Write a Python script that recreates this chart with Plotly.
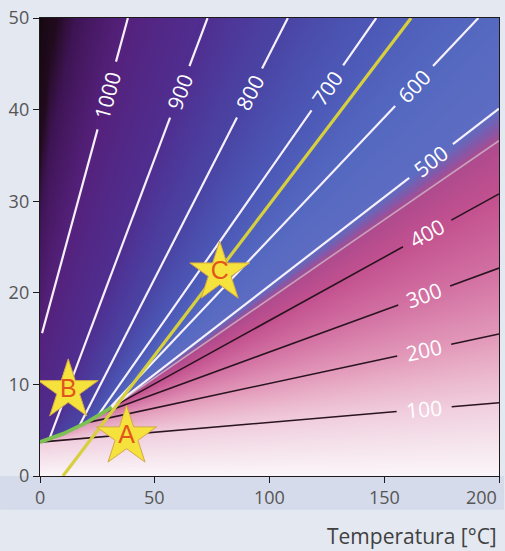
import numpy as np
import plotly.graph_objects as go

# Axis frame: temperature (°C) vs pressure (MPa)
T_RANGE = [0, 200]
P_RANGE = [0, 50]
x_ticks = [0, 50, 100, 150, 200]
y_ticks = [0, 10, 20, 30, 40, 50]
x_title = "Temperatura [°C]"

# Saturation curve up to the critical point
sat_T = [0, 10, 20, 31.3]
sat_P = [3.7, 4.6, 5.8, 7.5]

# Gas-side isochores (density, start point, end point)
gas_rho = [100, 200, 300, 400]
gas_T0 = [0, 20, 27, 30.5]
gas_P0 = [3.7, 5.8, 6.85, 7.38]
gas_T1 = [200, 200, 200, 200]
gas_P1 = [8.0, 15.5, 22.7, 30.8]
gas_label_T = [167.4, 167.4, 167.4, 168.7]

# Critical isochore
crit_rho = 467
crit_T = [31.3, 200]
crit_P = [7.5, 36.6]

# Liquid-side isochores
liq_rho = [500, 600, 700, 800, 900, 1000]
liq_T0 = [31, 29.5, 25, 17, 4.3, 0.9]
liq_P0 = [7.45, 7.2, 6.5, 5.4, 4.2, 15.6]
liq_T1 = [200, 191, 146.5, 108, 73, 38.3]
liq_P1 = [40.1, 50, 50, 50, 50, 50]
liq_label_T = [170.4, 163, 125.2, 91.3, 60.9, 29.1]

# Process path and marked states
path_T = [10, 161.7]
path_P = [0, 50]
star_T = [37.7, 12.3, 78.3]
star_P = [4.3, 9.35, 22.2]
star_text = ["A", "B", "C"]

# Plot area geometry (px) used to orient labels along lines
W_PX, H_PX = 460, 460
SX = W_PX / (T_RANGE[1] - T_RANGE[0])
SY = H_PX / (P_RANGE[1] - P_RANGE[0])


def line_P(T, T0, P0, T1, P1):
    return P0 + (T - T0) * (P1 - P0) / (T1 - T0)


# ---- density field for the background shading ----
grid_T = np.linspace(0, 200, 401)
grid_P = np.linspace(0, 50, 301)
Z = np.empty((len(grid_P), len(grid_T)))
gas_all = list(zip(gas_rho, gas_T0, gas_P0, gas_T1, gas_P1)) + [
    (crit_rho, crit_T[0], crit_P[0], crit_T[1], crit_P[1])
]
liq_all = list(zip(liq_rho, liq_T0, liq_P0, liq_T1, liq_P1))
for j, T in enumerate(grid_T):
    ps = float(np.interp(T, sat_T, sat_P))
    Ps, Rs = [0.0], [0.0]
    for rho, T0, P0, T1, P1 in gas_all:
        p = line_P(T, T0, P0, T1, P1)
        if T < T0:
            p = min(p, ps)
        Ps.append(p)
        Rs.append(rho)
    for rho, T0, P0, T1, P1 in liq_all:
        p = line_P(T, T0, P0, T1, P1)
        if T < T0:
            p = max(p, ps)
        Ps.append(p)
        Rs.append(rho)
    grad = 100.0 / max(Ps[-1] - Ps[-2], 1.0)
    Ps.append(Ps[-1] + 60)
    Rs.append(Rs[-1] + 60 * grad)
    Pa = np.maximum.accumulate(np.array(Ps)) + np.arange(len(Ps)) * 1e-6
    Z[:, j] = np.interp(grid_P, Pa, np.array(Rs))

ZMAX = 1320.0
stops = [
    (0, "#fbf6fa"), (60, "#f4dfe9"), (100, "#f0cddd"), (150, "#eab4ca"),
    (200, "#e298b9"), (300, "#d270a2"), (400, "#c2518f"), (467, "#ae4a8e"),
    (482, "#8458a8"), (500, "#5d6cc2"), (600, "#5468c0"), (700, "#4c58b6"),
    (800, "#4a44a4"), (900, "#4f2e90"), (1000, "#55217c"), (1120, "#3e1454"),
    (1190, "#200a1c"), (1320, "#140810"),
]
colorscale = [[v / ZMAX, c] for v, c in stops]

fig = go.Figure()
fig.add_trace(go.Heatmap(
    x=grid_T, y=grid_P, z=Z, colorscale=colorscale, zmin=0, zmax=ZMAX,
    zsmooth="best", showscale=False, hoverinfo="skip",
))

annotations = []
LABEL_SIZE = 21


def add_isochore(T0, P0, T1, P1, label_T, text, color, width):
    m = (P1 - P0) / (T1 - T0)
    ang = np.degrees(np.arctan2(m * SY, SX))
    if label_T is None:
        xs, ys = [T0, T1], [P0, P1]
    else:
        half_px = 0.36 * LABEL_SIZE * len(text) + 5
        dT = half_px * np.cos(np.radians(ang)) / SX
        Pl = line_P(label_T, T0, P0, T1, P1)
        xs = [T0, label_T - dT, None, label_T + dT, T1]
        ys = [P0, line_P(label_T - dT, T0, P0, T1, P1), None,
              line_P(label_T + dT, T0, P0, T1, P1), P1]
        annotations.append(dict(
            x=label_T, y=Pl, xref="x", yref="y", text=text, showarrow=False,
            textangle=-ang,
            font=dict(family="Open Sans", size=LABEL_SIZE, color="#ffffff"),
        ))
    fig.add_trace(go.Scatter(
        x=xs, y=ys, mode="lines", line=dict(color=color, width=width),
        hoverinfo="skip", showlegend=False,
    ))


for rho, T0, P0, T1, P1, lt in zip(gas_rho, gas_T0, gas_P0, gas_T1, gas_P1, gas_label_T):
    add_isochore(T0, P0, T1, P1, lt, str(rho), "#2a1420", 1.6)

add_isochore(crit_T[0], crit_P[0], crit_T[1], crit_P[1], None, "", "#c9a2bc", 1.6)

for rho, T0, P0, T1, P1, lt in zip(liq_rho, liq_T0, liq_P0, liq_T1, liq_P1, liq_label_T):
    add_isochore(T0, P0, T1, P1, lt, str(rho), "#f6f0fa", 2.2)

# saturation curve
fig.add_trace(go.Scatter(
    x=sat_T, y=sat_P, mode="lines", line=dict(color="#7cc152", width=3.8),
    hoverinfo="skip", showlegend=False,
))
# process path
fig.add_trace(go.Scatter(
    x=path_T, y=path_P, mode="lines", line=dict(color="#d6d03e", width=3.2),
    hoverinfo="skip", showlegend=False,
))
# marked states
fig.add_trace(go.Scatter(
    x=star_T, y=star_P, mode="markers+text", text=star_text,
    textposition="middle center",
    textfont=dict(family="Liberation Sans", size=25, color="#e2561c"),
    marker=dict(symbol="star", size=45, color="#f6e23c",
                line=dict(color="#d2a848", width=1)),
    hoverinfo="skip", showlegend=False,
))

# x tick labels (the last one kept inside the figure edge)
tick_font = dict(family="Open Sans", size=18, color="#555555")
for v in x_ticks:
    annotations.append(dict(
        x=v, y=(476 - 497) / H_PX, xref="x", yref="paper",
        xanchor="right" if v == T_RANGE[1] else "center", yanchor="middle",
        text=str(v), showarrow=False, font=tick_font,
    ))

annotations.append(dict(
    x=1, y=(476 - 536) / H_PX, xref="paper", yref="paper", xanchor="right",
    yanchor="middle", text=x_title, showarrow=False,
    font=dict(family="Open Sans", size=21, color="#404040"),
))

axis_common = dict(
    showgrid=False, zeroline=False, showline=True, linecolor="#1e1a1c",
    linewidth=1.4, mirror=True, ticks="outside", ticklen=6, tickwidth=1.4,
    tickcolor="#1e1a1c", tickfont=tick_font,
)

fig.update_layout(
    width=505, height=551,
    margin=dict(l=40, r=5, t=16, b=75),
    paper_bgcolor="#e4e8f1", plot_bgcolor="#ffffff",
    xaxis=dict(range=T_RANGE, tickvals=x_ticks, showticklabels=False, **axis_common),
    yaxis=dict(range=P_RANGE, tickvals=y_ticks, **axis_common),
    annotations=annotations,
    shapes=[dict(
        type="rect", xref="paper", yref="paper", layer="below",
        x0=-40 / W_PX, x1=1 + 5 / W_PX, y0=(476 - 510) / H_PX, y1=0,
        fillcolor="#d5dbea", line=dict(width=0),
    )],
    showlegend=False,
)

fig.write_html("out.html")
